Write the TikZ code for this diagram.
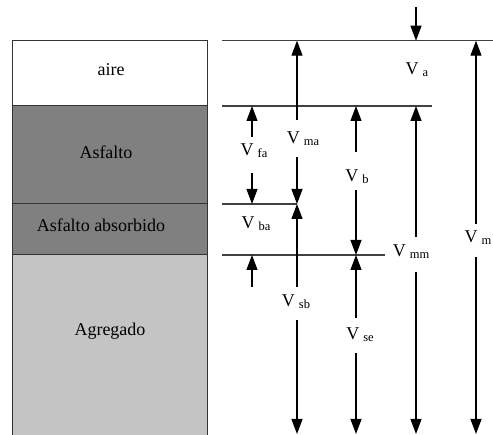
\documentclass[tikz,border=0pt]{standalone}
\usepackage{fontspec}
\setmainfont{Liberation Serif}
\newfontfamily\tmsfont{Liberation Serif}
\usetikzlibrary{arrows.meta}
\newcommand\subv[1]{\hspace{4pt}\raisebox{-2pt}{\fontsize{12.5}{12.5}\selectfont #1}}
\begin{document}
\begin{tikzpicture}[x=1pt,y=-1pt,
  arr/.style={-{Triangle[length=15pt,width=11pt]}, line width=1.1pt, black},
  lay/.style={draw=black!80, line width=1pt},
  hline/.style={draw=black!75, line width=1.1pt},
  lbl/.style={font=\tmsfont\fontsize{18}{18}\selectfont, inner sep=0pt},
  boxtxt/.style={font=\tmsfont\fontsize{18}{18}\selectfont, inner sep=0pt}]
\useasboundingbox (0,0) rectangle (493,435);
% layers
\fill[white] (12,40.7) rectangle (207,106);
\fill[black!50] (12,106) rectangle (207,255);
\fill[black!23] (12,255) rectangle (207,437);
\draw[lay] (12,437) -- (12,40.7) -- (207,40.7) -- (207,437);
\draw[lay] (12,106) -- (207,106);
\draw[lay] (12,204) -- (207,204);
\draw[lay] (12,255) -- (207,255);
\node[boxtxt] (aire) at (111,70) {aire};
\node[boxtxt] (asf) at (106,152) {Asfalto};
\node[boxtxt] (abs) at (101,225) {Asfalto absorbido};
\node[boxtxt] (agr) at (110,331) {Agregado};
% level lines
\coordinate (L1a) at (222,40.7); \coordinate (L1b) at (493,40.7);
\coordinate (L2a) at (222,106);  \coordinate (L2b) at (432,106);
\coordinate (L3a) at (222,204);  \coordinate (L3b) at (297,204);
\coordinate (L4a) at (222,255);  \coordinate (L4b) at (385,255);
\draw[hline] (L1a) -- (L1b);
\draw[hline] (L2a) -- (L2b);
\draw[hline] (L3a) -- (L3b);
\draw[hline] (L4a) -- (L4b);
% labels
\node[lbl] (Va)  at (417,70)  {V\subv{a}};
\node[lbl] (Vma) at (303,139) {V\subv{ma}};
\node[lbl] (Vfa) at (254,151) {V\subv{fa}};
\node[lbl] (Vb)  at (357,177) {V\subv{b}};
\node[lbl] (Vba) at (256,224) {V\subv{ba}};
\node[lbl] (Vmm) at (411,252) {V\subv{mm}};
\node[lbl] (Vm)  at (478,238) {V\subv{m}};
\node[lbl] (Vsb) at (296,302) {V\subv{sb}};
\node[lbl] (Vse) at (360,335) {V\subv{se}};
% arrow coordinates
\coordinate (topS) at (416,7);    \coordinate (topE) at (416,40.7);
\coordinate (vmT) at (476,40.7);  \coordinate (vm1) at (476,224); \coordinate (vm2) at (476,257); \coordinate (vmB) at (476,434);
\coordinate (vmaT) at (297,40.7); \coordinate (vma1) at (297,120); \coordinate (vma2) at (297,157); \coordinate (vmaB) at (297,204);
\coordinate (vfaT) at (252,106);  \coordinate (vfa1) at (252,137); \coordinate (vfa2) at (252,173); \coordinate (vfaB) at (252,204);
\coordinate (vbaS) at (252,287);  \coordinate (vbaE) at (252,255);
\coordinate (vbT) at (356,106);   \coordinate (vb1) at (356,152); \coordinate (vb2) at (356,190); \coordinate (vbB) at (356,255);
\coordinate (vmmT) at (416,106);  \coordinate (vmm1) at (416,237); \coordinate (vmm2) at (416,272); \coordinate (vmmB) at (416,434);
\coordinate (vsbT) at (297,204);  \coordinate (vsb1) at (297,287); \coordinate (vsb2) at (297,320); \coordinate (vsbB) at (297,434);
\coordinate (vseT) at (356,255);  \coordinate (vse1) at (356,318); \coordinate (vse2) at (356,353); \coordinate (vseB) at (356,434);
% arrows
\draw[arr] (topS) -- (topE);
\draw[arr] (vm1) -- (vmT);   \draw[arr] (vm2) -- (vmB);
\draw[arr] (vma1) -- (vmaT); \draw[arr] (vma2) -- (vmaB);
\draw[arr] (vfa1) -- (vfaT); \draw[arr] (vfa2) -- (vfaB);
\draw[arr] (vbaS) -- (vbaE);
\draw[arr] (vb1) -- (vbT);   \draw[arr] (vb2) -- (vbB);
\draw[arr] (vmm1) -- (vmmT); \draw[arr] (vmm2) -- (vmmB);
\draw[arr] (vsb1) -- (vsbT); \draw[arr] (vsb2) -- (vsbB);
\draw[arr] (vse1) -- (vseT); \draw[arr] (vse2) -- (vseB);
\end{tikzpicture}
\end{document}
